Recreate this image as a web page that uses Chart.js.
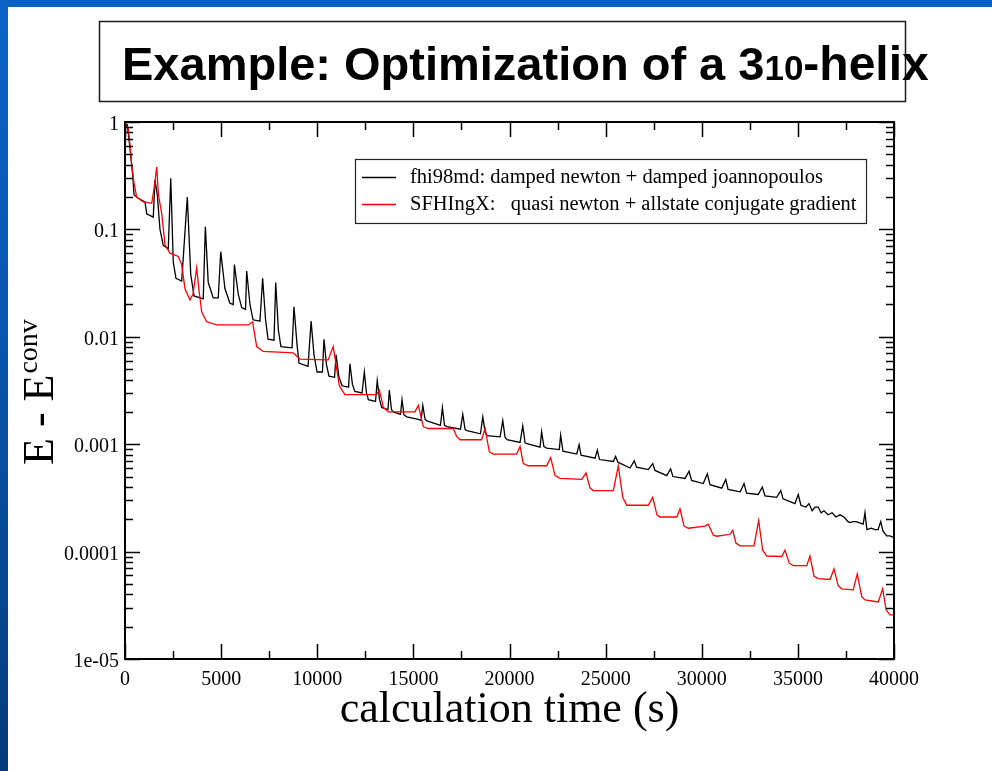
<!DOCTYPE html>
<html>
<head>
<meta charset="utf-8">
<title>Example: Optimization of a 3-10 helix</title>
<script src="https://cdn.jsdelivr.net/npm/chart.js@4.4.1/dist/chart.umd.min.js"></script>
<style>
	html, body { margin: 0; padding: 0; background: #fff; }
	canvas { display: block; }
</style>
</head>
<body>
<canvas id="helixChart" width="992" height="771"></canvas>
<script>
// fhi98md: damped newton + damped joannopoulos (black).
const fhiTime = [0, 120, 260, 400, 470, 690, 1040, 1130, 1470, 1560, 1680, 1820, 1990, 2250, 2380, 2510, 2650, 2950, 3240, 3420, 3590, 4070, 4180, 4330, 4590, 4850, 4980, 5200, 5460, 5630, 5690, 5890, 6070, 6270, 6330, 6500, 6660, 7020, 7160, 7310, 7440, 7750, 7840, 7980, 8110, 8690, 8790, 8950, 9050, 9520, 9680, 9830, 9990, 10270, 10350, 10480, 10610, 10900, 10980, 11130, 11290, 11630, 11700, 11830, 11960, 12330, 12450, 12560, 12660, 13030, 13120, 13240, 13350, 13680, 13750, 13860, 13960, 14330, 14410, 14510, 14650, 15260, 15400, 15490, 15610, 15710, 16410, 16510, 16620, 16750, 17450, 17570, 17690, 17790, 18490, 18610, 18730, 18830, 19510, 19650, 19770, 19870, 20550, 20690, 20810, 20910, 21590, 21670, 21790, 21930, 22590, 22660, 22780, 23500, 23620, 23720, 24450, 24570, 24680, 25400, 25520, 25640, 26270, 26490, 26610, 27220, 27450, 27570, 28180, 28380, 28500, 29130, 29340, 29470, 30080, 30290, 30430, 31040, 31250, 31370, 32000, 32200, 32330, 32940, 33150, 33290, 33900, 34110, 34230, 34850, 35020, 35160, 35420, 35580, 35740, 35900, 36050, 36210, 36360, 36570, 36780, 36980, 37190, 37400, 37610, 37710, 37870, 38030, 38400, 38490, 38590, 38810, 39010, 39170, 39310, 39430, 39620, 39790, 40000];
const fhiEnergy = [0.95, 0.94, 0.57, 0.32, 0.21, 0.195, 0.18, 0.14, 0.13, 0.29, 0.21, 0.10, 0.071, 0.066, 0.30, 0.05, 0.035, 0.033, 0.20, 0.038, 0.024, 0.0225, 0.106, 0.032, 0.023, 0.023, 0.062, 0.028, 0.0205, 0.020, 0.047, 0.025, 0.0187, 0.018, 0.041, 0.020, 0.0144, 0.014, 0.035, 0.0145, 0.0095, 0.0093, 0.032, 0.0115, 0.0081, 0.0079, 0.019, 0.0084, 0.0057, 0.0053, 0.014, 0.0068, 0.0047, 0.0047, 0.0095, 0.0055, 0.0043, 0.0042, 0.0068, 0.0042, 0.0035, 0.0034, 0.0056, 0.0036, 0.0031, 0.0030, 0.0047, 0.0030, 0.0026, 0.0025, 0.0039, 0.0026, 0.0022, 0.0021, 0.0032, 0.0021, 0.0020, 0.0019, 0.0026, 0.00188, 0.0018, 0.0017, 0.00167, 0.0023, 0.0017, 0.00165, 0.0015, 0.0022, 0.0015, 0.00146, 0.00138, 0.0019, 0.00137, 0.00134, 0.00125, 0.0018, 0.0013, 0.0012, 0.00117, 0.00166, 0.00116, 0.0011, 0.00104, 0.00148, 0.00103, 0.00101, 0.00094, 0.00131, 0.00095, 0.00092, 0.00089, 0.00121, 0.00086, 0.00081, 0.00099, 0.00079, 0.00074, 0.00088, 0.00072, 0.00069, 0.00077, 0.00068, 0.00060, 0.00070, 0.00061, 0.00058, 0.00066, 0.00057, 0.00051, 0.00059, 0.00050, 0.00048, 0.00056, 0.00046, 0.00043, 0.00053, 0.00042, 0.00039, 0.00047, 0.00038, 0.00036, 0.00043, 0.00035, 0.00034, 0.00040, 0.00033, 0.00032, 0.00037, 0.00031, 0.00028, 0.00034, 0.00027, 0.00026, 0.00028, 0.00024, 0.00026, 0.00026, 0.00023, 0.00024, 0.00022, 0.00023, 0.00021, 0.00022, 0.00021, 0.00019, 0.000186, 0.00019, 0.00019, 0.00018, 0.00023, 0.00016, 0.000165, 0.00016, 0.00016, 0.00019, 0.000155, 0.00014, 0.00014, 0.000135];

// SFHIngX: quasi newton + allstate conjugate gradient (red).
const sfhTime = [0, 170, 260, 350, 470, 610, 950, 1390, 1510, 1650, 1740, 1910, 2080, 2340, 2770, 2950, 3120, 3380, 3540, 3730, 3850, 3990, 4250, 4770, 6410, 6640, 6850, 7190, 8750, 9100, 10570, 10830, 11150, 11440, 13090, 13230, 13440, 13700, 15080, 15260, 15520, 15780, 17080, 17250, 17430, 18550, 18730, 18950, 19160, 20370, 20550, 20720, 20980, 21930, 22140, 22370, 22630, 23760, 23980, 24190, 24360, 25400, 25660, 25890, 26100, 27220, 27450, 27670, 27830, 28700, 28870, 29080, 29300, 30170, 30340, 30600, 30780, 31470, 31610, 31780, 31990, 32720, 32960, 33170, 33380, 34160, 34330, 34550, 34760, 35460, 35630, 35840, 36060, 36670, 36880, 37100, 37280, 37880, 38090, 38320, 38490, 39180, 39410, 39590, 39790, 40000];
const sfhEnergy = [0.95, 0.87, 0.61, 0.40, 0.27, 0.20, 0.18, 0.175, 0.24, 0.38, 0.21, 0.14, 0.072, 0.060, 0.056, 0.047, 0.028, 0.022, 0.025, 0.044, 0.027, 0.017, 0.0138, 0.0129, 0.0129, 0.0138, 0.0081, 0.0073, 0.0071, 0.0062, 0.0061, 0.0081, 0.0035, 0.0029, 0.0029, 0.0032, 0.0022, 0.0020, 0.0020, 0.0023, 0.00145, 0.0014, 0.0014, 0.00118, 0.0011, 0.0011, 0.0014, 0.00085, 0.00081, 0.00081, 0.00095, 0.00066, 0.00063, 0.00063, 0.00075, 0.00051, 0.00048, 0.00047, 0.00054, 0.00039, 0.00037, 0.00037, 0.00063, 0.00032, 0.00027, 0.00027, 0.00032, 0.00022, 0.00021, 0.00021, 0.00025, 0.000173, 0.000165, 0.000173, 0.00018, 0.000142, 0.000139, 0.000145, 0.000158, 0.00012, 0.000113, 0.000113, 0.000194, 0.000103, 0.000091, 0.00009, 0.000103, 0.000078, 0.000074, 0.000074, 0.000091, 0.000059, 0.000056, 0.000055, 0.000069, 0.000048, 0.000045, 0.000044, 0.000062, 0.000038, 0.0000355, 0.000034, 0.000045, 0.0000287, 0.0000257, 0.0000257];

const seriesLabels = ['fhi98md: damped newton + damped joannopoulos', 'SFHIngX:   quasi newton + allstate conjugate gradient'];
const seriesColors = ['#000000', '#ff0000'];

const xTicks = [0, 5000, 10000, 15000, 20000, 25000, 30000, 35000, 40000];
const yTicks = [1, 0.1, 0.01, 0.001, 0.0001, 0.00001];
const yTickLabels = ['1', '0.1', '0.01', '0.001', '0.0001', '1e-05'];

const serif = '"Liberation Serif", "Times New Roman", serif';
const sans = '"Liberation Sans", Arial, sans-serif';

function toPoints( times, values ) {
	return times.map( ( t, i ) => ( { x: t, y: values[i] } ) );
}

function line( ctx, x1, y1, x2, y2 ) {
	ctx.beginPath();
	ctx.moveTo( x1, y1 );
	ctx.lineTo( x2, y2 );
	ctx.stroke();
}

// Slide background: blue bands, boxed title.
const slidePlugin = {
	id: 'slideBackground',
	beforeDraw( chart ) {
		const ctx = chart.ctx;
		ctx.save();
		ctx.fillStyle = '#ffffff';
		ctx.fillRect( 0, 0, chart.width, chart.height );

		ctx.fillStyle = '#0862c4';
		ctx.fillRect( 0, 0, chart.width, 7 );
		const grad = ctx.createLinearGradient( 0, 0, 0, chart.height );
		grad.addColorStop( 0, '#0a64c8' );
		grad.addColorStop( 0.5, '#0753aa' );
		grad.addColorStop( 1, '#053a7c' );
		ctx.fillStyle = grad;
		ctx.fillRect( 0, 0, 8, chart.height );

		// title box
		ctx.strokeStyle = '#1a1a1a';
		ctx.lineWidth = 1.5;
		ctx.strokeRect( 99.5, 21.5, 806, 80 );

		ctx.fillStyle = '#000';
		ctx.textBaseline = 'alphabetic';
		ctx.textAlign = 'left';
		let x = 122;
		ctx.font = 'bold 47px ' + sans;
		ctx.fillText( 'Example: Optimization of a 3', x, 80 );
		x += ctx.measureText( 'Example: Optimization of a 3' ).width;
		ctx.font = 'bold 35px ' + sans;
		ctx.fillText( '10', x, 80 );
		x += ctx.measureText( '10' ).width;
		ctx.font = 'bold 48px ' + sans;
		ctx.fillText( '-helix', x, 80 );
		ctx.restore();
	}
};

// Grace-style frame: inward ticks on all sides, labels, titles, legend.
const framePlugin = {
	id: 'graceFrame',
	afterDatasetsDraw( chart ) {
		const ctx = chart.ctx;
		const area = chart.chartArea;
		const xs = chart.scales.x;
		const ys = chart.scales.y;
		ctx.save();
		ctx.strokeStyle = '#000';
		ctx.fillStyle = '#000';

		// ticks
		ctx.lineWidth = 1.5;
		xTicks.forEach( v => {
			const px = Math.round( xs.getPixelForValue( v ) ) + 0.5;
			line( ctx, px, area.bottom, px, area.bottom - 15 );
			line( ctx, px, area.top, px, area.top + 15 );
		} );
		for ( let v = 2500; v < 40000; v += 5000 ) {
			const px = Math.round( xs.getPixelForValue( v ) ) + 0.5;
			line( ctx, px, area.bottom, px, area.bottom - 8 );
			line( ctx, px, area.top, px, area.top + 8 );
		}
		yTicks.forEach( v => {
			const py = Math.round( ys.getPixelForValue( v ) ) + 0.5;
			line( ctx, area.left, py, area.left + 15, py );
			line( ctx, area.right, py, area.right - 15, py );
		} );
		yTicks.slice( 1 ).forEach( d => {
			for ( let m = 2; m <= 9; m++ ) {
				const py = Math.round( ys.getPixelForValue( m * d ) ) + 0.5;
				line( ctx, area.left, py, area.left + 8, py );
				line( ctx, area.right, py, area.right - 8, py );
			}
		} );

		// frame
		ctx.lineWidth = 2;
		ctx.strokeRect( area.left, area.top, area.right - area.left, area.bottom - area.top );

		// tick labels
		ctx.font = '20px ' + serif;
		ctx.textBaseline = 'alphabetic';
		ctx.textAlign = 'center';
		xTicks.forEach( v => {
			ctx.fillText( String( v ), xs.getPixelForValue( v ), area.bottom + 26 );
		} );
		ctx.textAlign = 'right';
		yTicks.forEach( ( v, i ) => {
			ctx.fillText( yTickLabels[i], area.left - 6, ys.getPixelForValue( v ) + 8 );
		} );

		// axis titles
		ctx.textAlign = 'center';
		ctx.font = '44px ' + serif;
		ctx.fillText( 'calculation time (s)', ( area.left + area.right ) / 2, 722 );

		ctx.save();
		ctx.translate( 53, 465 );
		ctx.rotate( -Math.PI / 2 );
		ctx.textAlign = 'left';
		ctx.font = '44px ' + serif;
		ctx.fillText( 'E - E', 0, 0 );
		const w = ctx.measureText( 'E - E' ).width;
		ctx.font = '28px ' + serif;
		ctx.fillText( 'conv', w + 1, -16 );
		ctx.restore();

		// legend
		ctx.fillStyle = '#fff';
		ctx.fillRect( 355, 159, 511, 64 );
		ctx.lineWidth = 1.2;
		ctx.strokeStyle = '#222';
		ctx.strokeRect( 355.5, 159.5, 511, 64 );
		ctx.font = '20.5px ' + serif;
		ctx.textAlign = 'left';
		seriesLabels.forEach( ( label, i ) => {
			const y = 177 + i * 27;
			ctx.strokeStyle = seriesColors[i];
			ctx.lineWidth = 1.3;
			line( ctx, 362, y + 0.5, 396, y + 0.5 );
			ctx.fillStyle = '#000';
			ctx.fillText( label, 410, y + 6 );
		} );
		ctx.restore();
	}
};

new Chart( document.getElementById( 'helixChart' ), {
	type: 'line',
	data: {
		datasets: [
			{
				label: seriesLabels[0],
				data: toPoints( fhiTime, fhiEnergy ),
				borderColor: seriesColors[0],
				borderWidth: 1.3,
				pointRadius: 0,
				tension: 0,
				order: 1
			},
			{
				label: seriesLabels[1],
				data: toPoints( sfhTime, sfhEnergy ),
				borderColor: seriesColors[1],
				borderWidth: 1.3,
				pointRadius: 0,
				tension: 0,
				order: 0
			}
		]
	},
	options: {
		responsive: false,
		animation: false,
		devicePixelRatio: 1,
		layout: {
			padding: { left: 125, top: 122, right: 98, bottom: 112 }
		},
		scales: {
			x: { type: 'linear', min: 0, max: 40000, display: false },
			y: { type: 'logarithmic', min: 0.00001, max: 1, display: false }
		},
		plugins: {
			legend: { display: false },
			tooltip: { enabled: false },
			title: { display: false }
		}
	},
	plugins: [ slidePlugin, framePlugin ]
} );
</script>
</body>
</html>
